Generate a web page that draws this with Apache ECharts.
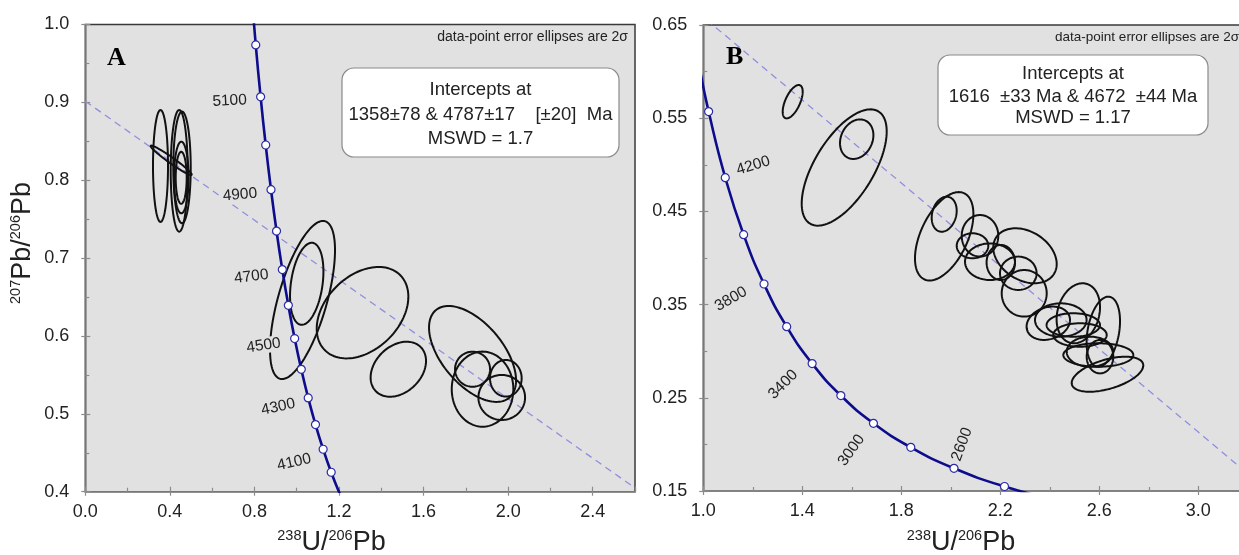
<!DOCTYPE html>
<html><head><meta charset="utf-8">
<script src="https://cdn.jsdelivr.net/npm/echarts@6/dist/echarts.min.js"></script>
<style>html,body{margin:0;padding:0;background:#fff}#c{width:1239px;height:555px}</style>
</head><body><div id="c"></div>
<script>
// ---------------- data ----------------
// error ellipses: [centre x, centre y, half-range x, half-range y, correlation]
const ellipsesA = [
  [0.3557, 0.8183, 0.0355, 0.0719, 0.0],
  [0.4442, 0.8121, 0.0402, 0.0781, 0.0],
  [0.4574, 0.8164, 0.0412, 0.0717, 0.0],
  [0.4541, 0.8035, 0.0345, 0.0460, 0.0],
  [0.4536, 0.8031, 0.0260, 0.0334, 0.0],
  [0.4063, 0.8256, 0.0970, 0.0189, -0.97],
  [1.0274, 0.6462, 0.1537, 0.1015, 0.63],
  [1.0473, 0.6670, 0.0790, 0.0527, 0.30],
  [1.3113, 0.6299, 0.2167, 0.0587, 0.35],
  [1.4806, 0.5573, 0.1310, 0.0353, 0.30],
  [1.8316, 0.5769, 0.2058, 0.0616, -0.55],
  [1.8316, 0.5573, 0.0828, 0.0225, 0.0],
  [1.8789, 0.5317, 0.1457, 0.0482, 0.0],
  [1.9890, 0.5457, 0.0749, 0.0235, 0.0],
  [1.9697, 0.5210, 0.1103, 0.0289, 0.0]
];
const ellipsesB = [
  [1.3612, 0.5677, 0.0404, 0.0179, 0.6],
  [1.5693, 0.4971, 0.1717, 0.0624, 0.62],
  [1.6198, 0.5275, 0.0675, 0.0212, 0.2],
  [1.9733, 0.4233, 0.1180, 0.0474, 0.5],
  [1.9733, 0.4470, 0.0505, 0.0188, 0.2],
  [2.1180, 0.4238, 0.0739, 0.0223, 0.0],
  [2.0877, 0.4131, 0.0638, 0.0134, 0.0],
  [2.1584, 0.3960, 0.1010, 0.0196, 0.0],
  [2.2020, 0.3952, 0.0574, 0.0188, 0.0],
  [2.2998, 0.4024, 0.1281, 0.0295, -0.3],
  [2.2727, 0.3836, 0.0739, 0.0179, 0.0],
  [2.2966, 0.3621, 0.0909, 0.0250, 0.0],
  [2.3939, 0.3300, 0.0877, 0.0179, 0.2],
  [2.4444, 0.3335, 0.1042, 0.0179, 0.0],
  [2.5152, 0.3407, 0.0877, 0.0322, 0.2],
  [2.6162, 0.3209, 0.0675, 0.0376, 0.3],
  [2.4949, 0.3281, 0.1079, 0.0126, 0.0],
  [2.5220, 0.3174, 0.1079, 0.0126, 0.0],
  [2.5624, 0.2995, 0.0941, 0.0161, 0.0],
  [2.5960, 0.2959, 0.1414, 0.0126, 0.0],
  [2.6331, 0.2753, 0.1446, 0.0188, 0.5],
  [2.6028, 0.2941, 0.0537, 0.0179, 0.0]
];

// concordia points (age in Ma, 238U/206Pb, 207Pb/206Pb)
const concordiaAgesA = [3900, 4000, 4100, 4200, 4300, 4400, 4500, 4600, 4700, 4800, 4900, 5000, 5100, 5200, 5300];
const concordiaXA = [1.20312, 1.16298, 1.12494, 1.08877, 1.05434, 1.02153, 0.99024, 0.96037, 0.93180, 0.90449, 0.87833, 0.85327, 0.82925, 0.80619, 0.78406];
const concordiaYA = [0.39762, 0.42501, 0.45450, 0.48623, 0.52038, 0.55714, 0.59671, 0.63932, 0.68521, 0.73466, 0.78788, 0.84525, 0.90712, 0.97377, 1.04563];
const markerAgesA = [4000, 4100, 4200, 4300, 4400, 4500, 4600, 4700, 4800, 4900, 5000, 5100, 5200];

const concordiaAgesB = [2200, 2400, 2600, 2800, 3000, 3200, 3400, 3600, 3800, 4000, 4200, 4400, 4500];
const concordiaXB = [2.45858, 2.21695, 2.01292, 1.83837, 1.68745, 1.55570, 1.43972, 1.33697, 1.24527, 1.16298, 1.08877, 1.02153, 0.99024];
const concordiaYB = [0.13782, 0.15483, 0.17437, 0.19683, 0.22266, 0.25242, 0.28673, 0.32635, 0.37212, 0.42501, 0.48623, 0.55714, 0.59671];
const markerAgesB = [2400, 2600, 2800, 3000, 3200, 3400, 3600, 3800, 4000, 4200, 4400];

// discordia lines (end points)
const discordiaA = [[0.0, 0.9015], [2.6, 0.4048]];
const discordiaB = [[0.9396, 0.672], [3.5101, 0.0996]];

// text
const noteText = 'data-point error ellipses are 2σ';
const boxLinesA = ['Intercepts at', '1358±78 & 4787±17    [±20]  Ma', 'MSWD = 1.7'];
const boxLinesB = ['Intercepts at', '1616  ±33 Ma & 4672  ±44 Ma', 'MSWD = 1.17'];

// ---------------- styles / placement ----------------
const FONT = '"Liberation Sans", Arial, sans-serif';
const PLOT_BG = '#e1e1e1';
const AX = '#8c8c8c';
// age-label placement: [dx px, dy px, rotation deg]
const labelPlaceA = {5100: [-31, 4, 3], 4900: [-31, 5, 5], 4700: [-31, 7, 7], 4500: [-31, 7, 9], 4300: [-30, 9, 12], 4100: [-29, 13, 13]};
const labelPlaceB = {4200: [28, -12, 17], 3800: [-33, 15, 30], 3400: [-29, 21, 45], 3000: [-22, 27, 55], 2600: [8, -24, 70]};

function buildMarkers(ages, xs, ys, markerAges, place) {
  return markerAges.map(age => {
    const i = ages.indexOf(age);
    const item = {value: [xs[i], ys[i], age]};
    const p = place[age];
    if (p) {
      const rad = p[2] * Math.PI / 180, c = Math.cos(rad), s = Math.sin(rad);
      item.label = {show: true, rotate: p[2], offset: [p[0] * c - p[1] * s, p[0] * s + p[1] * c]};
    }
    return item;
  });
}
function line(xs, ys) { return xs.map((x, i) => [x, ys[i]]); }

function ellipseRender(params, api) {
  const cx = api.value(0), cy = api.value(1), dx = api.value(2), dy = api.value(3), r = api.value(4);
  const s = Math.sqrt(Math.max(0, 1 - r * r));
  const pts = [];
  const N = 120;
  for (let i = 0; i < N; i++) {
    const t = i / N * Math.PI * 2;
    pts.push(api.coord([cx + dx * Math.cos(t), cy + dy * (r * Math.cos(t) + s * Math.sin(t))]));
  }
  return {type: 'polygon', shape: {points: pts}, style: {fill: 'none', stroke: '#111', lineWidth: 2}, silent: true};
}

function mainAxis(dim, gridIndex, min, max, interval, digits, showMax) {
  return {
    type: 'value', gridIndex, min, max, interval,
    position: dim === 'x' ? 'bottom' : 'left',
    axisLine: {show: true, onZero: false, lineStyle: {color: AX, width: 1.5}},
    axisTick: {show: true, inside: false, length: 4, lineStyle: {color: AX, width: 1.2}},
    minorTick: {show: false},
    splitLine: {show: false},
    axisLabel: {show: true, margin: dim === 'x' ? 11 : 16, fontSize: 18, fontFamily: FONT, color: '#222',
      showMaxLabel: showMax, formatter: v => v.toFixed(digits)}
  };
}
function overlayAxis(dim, gridIndex, min, max, interval) {
  return {
    type: 'value', gridIndex, min, max, interval,
    position: dim === 'x' ? 'bottom' : 'left',
    axisLine: {show: false},
    axisLabel: {show: false},
    splitLine: {show: false},
    axisTick: {show: true, inside: true, length: 5, lineStyle: {color: AX, width: 1.2}},
    minorTick: {show: true, splitNumber: 2, length: 4, lineStyle: {color: AX, width: 1.2}}
  };
}

const markerLabel = {show: false, position: 'inside', formatter: p => String(p.value[2]),
  fontSize: 15.5, fontFamily: FONT, color: '#222', backgroundColor: PLOT_BG, padding: [0, 1]};

function panelSeries(xi, yi, ellipses, disc, cx, cy, ages, markerAges, place) {
  return [
    {type: 'line', xAxisIndex: xi, yAxisIndex: yi, data: disc, symbol: 'none', silent: true, z: 1,
      lineStyle: {color: '#8f8fe0', width: 1.3, type: [7, 5]}},
    {type: 'custom', xAxisIndex: xi, yAxisIndex: yi, data: ellipses, renderItem: ellipseRender,
      encode: {x: 0, y: 1}, clip: true, z: 2, silent: true},
    {type: 'line', xAxisIndex: xi, yAxisIndex: yi, data: line(cx, cy), smooth: true, symbol: 'none', silent: true, z: 3,
      lineStyle: {color: '#0c0c8c', width: 2.6}},
    {type: 'scatter', xAxisIndex: xi, yAxisIndex: yi, data: buildMarkers(ages, cx, cy, markerAges, place),
      symbol: 'circle', symbolSize: 8, z: 4, silent: true,
      itemStyle: {color: '#ffffff', borderColor: '#2a2aa8', borderWidth: 1.2, opacity: 1},
      label: markerLabel}
  ];
}

const titleRich = {
  m: {fontSize: 27, fontFamily: FONT, fill: '#222', lineHeight: 30},
  s: {fontSize: 14.5, fontFamily: FONT, fill: '#222', lineHeight: 20, verticalAlign: 'top'}
};

function textBox(x, y, w, h, cxp, ys, lines) {
  const els = [{type: 'rect', shape: {x, y, width: w, height: h, r: 12},
    style: {fill: '#ffffff', stroke: '#8a8a8a', lineWidth: 1.2}}];
  lines.forEach((t, i) => els.push({type: 'text', x: cxp, y: ys[i],
    style: {text: t, align: 'center', verticalAlign: 'middle', fontSize: 18.5, fontFamily: FONT, fill: '#222'}}));
  return els;
}

const chart = echarts.init(document.getElementById('c'), null, {renderer: 'canvas'});
const option = {
  animation: false,
  backgroundColor: '#ffffff',
  grid: [
    {left: 85.3, top: 24.5, width: 549.7, height: 467.2, show: true, backgroundColor: PLOT_BG,
      borderColor: '#3a3a3a', borderWidth: 1.5, containLabel: false, outerBoundsMode: 'none'},
    {left: 703.3, top: 25, width: 544.5, height: 466, show: true, backgroundColor: PLOT_BG,
      borderColor: '#3a3a3a', borderWidth: 1.5, containLabel: false, outerBoundsMode: 'none'}
  ],
  xAxis: [
    mainAxis('x', 0, 0, 2.6, 0.4, 1, false),
    overlayAxis('x', 0, 0, 2.6, 0.4),
    mainAxis('x', 1, 1.0, 3.2, 0.4, 1, false),
    overlayAxis('x', 1, 1.0, 3.2, 0.4)
  ],
  yAxis: [
    mainAxis('y', 0, 0.4, 1.0, 0.1, 1, true),
    overlayAxis('y', 0, 0.4, 1.0, 0.1),
    mainAxis('y', 1, 0.15, 0.65, 0.1, 2, true),
    overlayAxis('y', 1, 0.15, 0.65, 0.1)
  ],
  series: [].concat(
    panelSeries(0, 0, ellipsesA, discordiaA, concordiaXA, concordiaYA, concordiaAgesA, markerAgesA, labelPlaceA),
    panelSeries(2, 2, ellipsesB, discordiaB, concordiaXB, concordiaYB, concordiaAgesB, markerAgesB, labelPlaceB)
  ),
  graphic: [
    {type: 'text', x: 107, y: 58, z: 10, style: {text: 'A', fontSize: 26, fontWeight: 'bold', fontFamily: '"Liberation Serif", "Times New Roman", serif', fill: '#000', align: 'left', verticalAlign: 'middle'}},
    {type: 'text', x: 726, y: 57, z: 10, style: {text: 'B', fontSize: 26, fontWeight: 'bold', fontFamily: '"Liberation Serif", "Times New Roman", serif', fill: '#000', align: 'left', verticalAlign: 'middle'}},
    {type: 'text', x: 628, y: 37, z: 10, style: {text: noteText, align: 'right', verticalAlign: 'middle', fontSize: 14, fontFamily: FONT, fill: '#222'}},
    {type: 'text', x: 1239, y: 37, z: 10, style: {text: noteText, align: 'right', verticalAlign: 'middle', fontSize: 13.5, fontFamily: FONT, fill: '#222'}},
    {type: 'group', z: 10, children: textBox(342, 68, 277, 89, 480.5, [90, 115, 139], boxLinesA)},
    {type: 'group', z: 10, children: textBox(938, 55, 270, 80, 1073, [74, 97, 118], boxLinesB)},
    {type: 'text', x: 331.5, y: 543, z: 10, style: {text: '{s|238}{m|U/}{s|206}{m|Pb}', rich: titleRich, align: 'center', verticalAlign: 'middle'}},
    {type: 'text', x: 961, y: 543, z: 10, style: {text: '{s|238}{m|U/}{s|206}{m|Pb}', rich: titleRich, align: 'center', verticalAlign: 'middle'}},
    {type: 'text', x: 23, y: 243, rotation: Math.PI / 2, z: 10, style: {text: '{s|207}{m|Pb/}{s|206}{m|Pb}', rich: titleRich, align: 'center', verticalAlign: 'middle'}}
  ]
};
chart.setOption(option);
</script></body></html>
